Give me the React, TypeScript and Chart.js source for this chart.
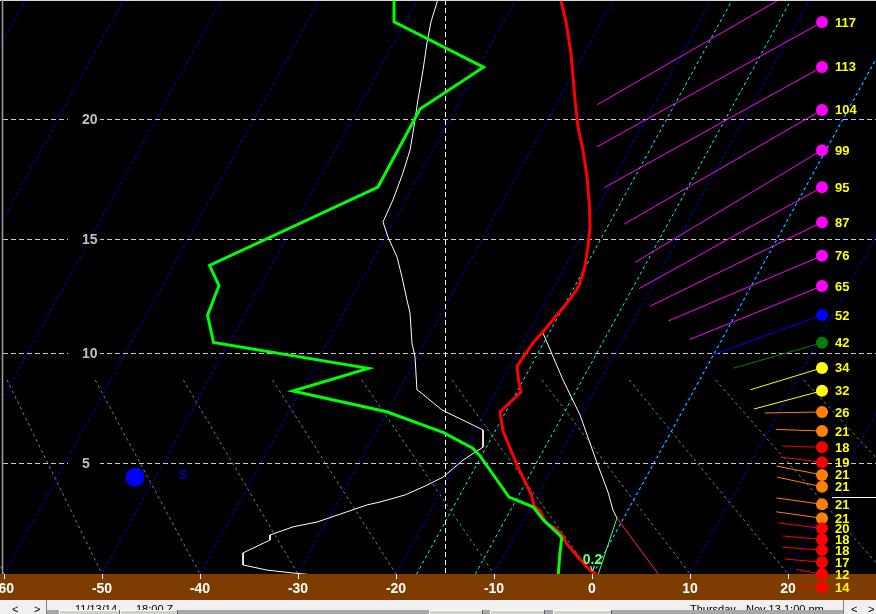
import React, { useEffect, useRef } from "react";
import { Chart, registerables } from "chart.js";

Chart.register(...registerables);

// ---------------- axes ----------------
const X_MIN = -60.41;
const X_MAX = 28.98;
const H_BOTTOM = -0.26; // kft at the ground line
const H_TOP = 24.82; // kft at the top of the plot
const xTickValues = [-60, -50, -40, -30, -20, -10, 0, 10, 20];
const yTickValues = [5, 10, 15, 20];
const markedTemp = -15;

// vertical stretch (log-p like) : display units per kft
function toD(h: number): number {
  return 20.6 * h + 0.093 * h * h;
}

// ---------------- background guide lines ----------------
const isotherms = [-90, -80, -70, -60, -50, -40, -30, -20, -10, 0, 10, 20];
const ISO_SHIFT = 32.2; // skew of isotherms between bottom and top of plot (°C)
const dgzIsotherms = [-18, -12, 0];
const adiabatBase = [-60, -50, -40, -30, -20, -10, 0, 10, 20, 30, 40];
const adiabatTop = [-68.8, -59.7, -50.7, -41.7, -32.6, -23.5, -14.3, -5.1, 3.8, 12.6, 21.6];
const ADIABAT_TOP_H = 8.81;

// ---------------- sounding profiles ----------------
const dewX = [-20.2, -20.2, -11.07, -17.55, -21.84, -39.03, -38.06, -39.23, -38.62, -22.83, -30.54, -20.95, -15.2, -12.17, -11.43, -8.47, -5.99, -4.97, -3.27, -3.09, -3.27, -3.44];
const dewH = [25.0, 23.95, 22.13, 20.43, 17.19, 13.85, 12.98, 11.69, 10.48, 9.33, 8.31, 7.37, 6.43, 5.7, 5.34, 3.42, 2.95, 2.34, 1.6, 1.47, 0.76, -0.26];

const tempX = [-3.3, -2.65, -2.14, -1.73, -1.43, -0.92, -0.51, -0.26, -0.2, -0.41, -0.71, -1.22, -1.58, -2.55, -4.59, -6.02, -7.65, -7.5, -7.24, -9.39, -9.08, -7.65, -6.17, -5.92, -5.31, -4.69, -3.78, -2.91, -2.65, -1.43, -0.2, 0.51];
const tempH = [25.0, 23.95, 22.67, 20.8, 19.69, 18.73, 17.61, 16.43, 15.5, 14.65, 13.83, 13.09, 12.78, 12.22, 11.17, 10.46, 9.43, 8.81, 8.27, 7.36, 6.49, 4.92, 3.52, 3.0, 2.77, 2.19, 1.95, 1.53, 1.24, 0.56, -0.07, -0.31];

const wetX = [-15.6, -16.43, -16.84, -17.24, -17.76, -18.27, -18.57, -19.29, -20.31, -21.33, -20.82, -19.9, -19.39, -18.88, -18.57, -18.37, -18.06, -17.86, -17.55, -15.31, -11.12, -11.12, -13.16, -15.2, -16.84, -19.08, -21.63, -22.96, -28.06, -30.51, -32.86, -32.86, -35.61, -35.61, -33.16, -30.51, -28.27];
const wetH = [25.0, 23.95, 23.11, 22.02, 20.8, 19.44, 18.73, 17.78, 16.65, 15.71, 15.07, 14.22, 13.35, 12.35, 11.78, 10.46, 9.83, 8.36, 8.27, 7.45, 6.54, 5.75, 5.15, 4.36, 3.98, 3.52, 3.19, 3.05, 2.24, 2.01, 1.62, 1.38, 0.76, 0.18, -0.07, -0.21, -0.31];

const parcelX = [-5.0, -2.96, -1.22, 0.41, 1.63, 2.14, 2.55];
const parcelH = [10.9, 8.81, 7.22, 5.15, 3.66, 2.81, 2.43];
const sfcTempX = [2.55, 6.84];
const sfcTempH = [2.43, -0.31];
const sfcDewX = [2.55, 0.61];
const sfcDewH = [2.43, -0.31];

const stormX = -46.63;
const stormH = 4.35;
const stormLabel = "S";
const precipLabel = "0.2";
const precipX = 0.05;
const precipH = 0.42;
const markerH = 3.43;
const markerX = 24.49;

// ---------------- winds (right column) ----------------
const WIND_COLUMN_X = 23.47;
const WIND_PX_PER_KT = 2.2;
const windHeights = [25.81, 23.94, 22.14, 20.39, 18.73, 17.18, 15.7, 14.27, 12.96, 11.69, 10.47, 9.35, 8.32, 7.36, 6.49, 5.74, 5.05, 4.46, 3.91, 3.08, 2.42, 1.94, 1.41, 0.9, 0.31, -0.26, -0.91];
const windSpeeds = [118, 117, 113, 104, 99, 95, 87, 76, 65, 52, 42, 34, 32, 26, 21, 18, 19, 21, 21, 21, 21, 20, 18, 18, 17, 12, 14];
const windDirs = [240, 241, 241, 240, 239, 241, 244, 247, 248, 250, 254, 253, 255, 269, 272, 272, 277, 281, 282, 278, 278, 277, 275, 274, 275, 280, 274];

// ---------------- status bar ----------------
const leftStamp = ["11/13/14", "18:00 Z"];
const rightStamp = ["Thursday", "Nov 13", "1:00 pm"];

function windColor(s: number): string {
  if (s <= 20) return "#ff0000";
  if (s <= 30) return "#ff8000";
  if (s <= 40) return "#ffff00";
  if (s <= 50) return "#008000";
  if (s <= 60) return "#0000ff";
  return "#ff00ff";
}

function pts(xs: number[], hs: number[]) {
  return xs.map((x, i) => ({ x, y: toD(hs[i]) }));
}

function seg(ctx: CanvasRenderingContext2D, x1: number, y1: number, x2: number, y2: number) {
  ctx.beginPath();
  ctx.moveTo(x1, y1);
  ctx.lineTo(x2, y2);
  ctx.stroke();
}

const skewPlugin = {
  id: "skewt",
  beforeDraw(chart: any) {
    const { ctx, width, height, chartArea: a } = chart;
    ctx.save();
    ctx.fillStyle = "#000000";
    ctx.fillRect(0, 0, width, a.bottom);
    ctx.fillStyle = "#7f3c00";
    ctx.fillRect(0, a.bottom, width, 26);
    ctx.fillStyle = "#f0f0f0";
    ctx.fillRect(0, a.bottom + 26, width, height - a.bottom - 26);
    ctx.restore();
  },
  beforeDatasetsDraw(chart: any) {
    const { ctx, chartArea: a, scales } = chart;
    const X = (v: number) => scales.x.getPixelForValue(v);
    const Y = (h: number) => scales.y.getPixelForValue(toD(h));
    ctx.save();
    ctx.beginPath();
    ctx.rect(a.left, a.top, a.right - a.left, a.bottom - a.top);
    ctx.clip();
    ctx.lineWidth = 1;

    // dry adiabats
    ctx.strokeStyle = "#4a8c8c";
    ctx.setLineDash([3, 3]);
    adiabatBase.forEach((t, i) => {
      seg(ctx, X(adiabatTop[i]), Y(ADIABAT_TOP_H), X(t), Y(H_BOTTOM));
    });

    // isotherms
    ctx.strokeStyle = "#0000ff";
    isotherms.forEach((t) => {
      seg(ctx, X(t), Y(H_BOTTOM), X(t + ISO_SHIFT), Y(H_TOP));
    });
    ctx.strokeStyle = "#00ffff";
    dgzIsotherms.forEach((t) => {
      seg(ctx, X(t) + 1, Y(H_BOTTOM), X(t + ISO_SHIFT) + 1, Y(H_TOP));
    });

    // horizontal height grid
    ctx.strokeStyle = "#c8c8c8";
    ctx.setLineDash([5, 3]);
    yTickValues.forEach((h) => {
      const y = Math.round(Y(h)) + 0.5;
      seg(ctx, a.left + 3, y, a.right, y);
    });
    // marked temperature line
    ctx.strokeStyle = "#ffffff";
    const xm = Math.round(X(markedTemp)) + 0.5;
    seg(ctx, xm, a.top, xm, a.bottom);
    ctx.setLineDash([]);

    // height labels
    ctx.font = "bold 14px Arial";
    ctx.textBaseline = "middle";
    ctx.textAlign = "left";
    yTickValues.forEach((h) => {
      const y = Y(h);
      ctx.fillStyle = "#000000";
      ctx.fillRect(68, y - 7, 32, 14);
      ctx.fillStyle = "#c0c0c0";
      ctx.fillText(String(h), 82, y + 1);
    });
    ctx.restore();
  },
  afterDatasetsDraw(chart: any) {
    const { ctx, chartArea: a, scales, width, height } = chart;
    const X = (v: number) => scales.x.getPixelForValue(v);
    const Y = (h: number) => scales.y.getPixelForValue(toD(h));
    ctx.save();

    // storm marker
    ctx.fillStyle = "#0000ff";
    ctx.beginPath();
    ctx.arc(X(stormX), Y(stormH), 9.5, 0, Math.PI * 2);
    ctx.fill();
    ctx.font = "13px Arial";
    ctx.textAlign = "center";
    ctx.textBaseline = "middle";
    ctx.fillText(stormLabel, X(stormX) + 48, Y(stormH) - 2);

    // precip label
    ctx.fillStyle = "#70ff70";
    ctx.font = "bold 14px Arial";
    ctx.fillText(precipLabel, X(precipX), Y(precipH));
    ctx.font = "bold 9px Arial";
    ctx.fillText("v", X(precipX), Y(precipH) + 9);

    // marker line
    ctx.strokeStyle = "#ffffff";
    ctx.lineWidth = 1;
    const ym = Math.round(Y(markerH)) + 0.5;
    seg(ctx, X(markerX), ym, a.right, ym);

    // winds
    const wx = X(WIND_COLUMN_X);
    windHeights.forEach((h, i) => {
      const y = Y(h);
      const s = windSpeeds[i];
      const c = windColor(s);
      const r = (windDirs[i] * Math.PI) / 180;
      const L = s * WIND_PX_PER_KT;
      ctx.strokeStyle = c;
      ctx.lineWidth = 1;
      seg(ctx, wx, y, wx + L * Math.sin(r), y - L * Math.cos(r));
    });
    ctx.font = "bold 13px Arial";
    ctx.textAlign = "left";
    ctx.textBaseline = "middle";
    windHeights.forEach((h, i) => {
      const y = Y(h);
      const s = windSpeeds[i];
      ctx.fillStyle = windColor(s);
      ctx.beginPath();
      ctx.arc(wx, y, 6, 0, Math.PI * 2);
      ctx.fill();
      ctx.fillStyle = "#ffff00";
      ctx.fillText(String(s), wx + 13, y + 1);
    });

    // frame lines
    ctx.strokeStyle = "#d8d8d8";
    seg(ctx, 0, 0.5, width, 0.5);
    ctx.strokeStyle = "#a0a0a0";
    ctx.lineWidth = 1.5;
    seg(ctx, 2.5, 0, 2.5, a.bottom);

    // x ticks and labels in ground band
    ctx.strokeStyle = "#ffffff";
    ctx.lineWidth = 1;
    ctx.fillStyle = "#ffffff";
    ctx.font = "bold 14px Arial";
    ctx.textAlign = "center";
    ctx.textBaseline = "middle";
    xTickValues.forEach((t) => {
      const x = Math.round(X(t)) + 0.5;
      seg(ctx, x, a.bottom, x, a.bottom + 5);
      ctx.fillText(String(t), X(t), a.bottom + 15);
    });

    // status bar
    const top = a.bottom + 26;
    ctx.strokeStyle = "#808080";
    seg(ctx, 46.5, top, 46.5, height);
    seg(ctx, 843.5, top, 843.5, height);
    ctx.fillStyle = "#000000";
    ctx.font = "11px Arial";
    ctx.textAlign = "left";
    ctx.textBaseline = "alphabetic";
    ctx.fillText("<", 12, top + 13);
    ctx.fillText(">", 34, top + 13);
    ctx.fillText("<", 851, top + 13);
    ctx.fillText(">", 868, top + 13);
    ctx.fillText(leftStamp[0], 75, top + 13);
    ctx.fillText(leftStamp[1], 136, top + 13);
    ctx.fillText(rightStamp[0], 690, top + 13);
    ctx.fillText(rightStamp[1], 746, top + 13);
    ctx.fillText(rightStamp[2], 784, top + 13);
    // lower button row
    const by = top + 10;
    ctx.fillStyle = "#a8a8a8";
    ctx.fillRect(47, by, width - 47 - 33, height - by);
    const buttons = [
      [59, 120],
      [120, 178],
      [429, 483],
      [490, 545],
      [553, 612],
    ];
    buttons.forEach(([x1, x2]) => {
      ctx.fillStyle = "#d4d0c8";
      ctx.fillRect(x1, by, x2 - x1, height - by);
      ctx.strokeStyle = "#ffffff";
      seg(ctx, x1, by + 0.5, x2, by + 0.5);
      seg(ctx, x1 + 0.5, by, x1 + 0.5, height);
      ctx.strokeStyle = "#606060";
      seg(ctx, x2 - 0.5, by, x2 - 0.5, height);
    });
    ctx.restore();
  },
};

export default function App() {
  const ref = useRef<HTMLCanvasElement>(null);
  useEffect(() => {
    const canvas = ref.current;
    if (!canvas) return;
    const chart = new Chart(canvas, {
      type: "line",
      data: {
        datasets: [
          { data: pts(dewX, dewH), borderColor: "#00ff00", borderWidth: 3, order: 0 },
          { data: pts(tempX, tempH), borderColor: "#ff0000", borderWidth: 3, order: 1 },
          { data: pts(wetX, wetH), borderColor: "#ffffff", borderWidth: 1, order: 2 },
          { data: pts(parcelX, parcelH), borderColor: "#ffffff", borderWidth: 1, order: 3 },
          { data: pts(sfcTempX, sfcTempH), borderColor: "#ff3030", borderWidth: 1, order: 3 },
          { data: pts(sfcDewX, sfcDewH), borderColor: "#50ff50", borderWidth: 1, order: 3 },
        ],
      } as any,
      options: {
        animation: false,
        responsive: false,
        maintainAspectRatio: false,
        layout: { padding: { left: 0, right: 0, top: 0, bottom: 40 } },
        scales: {
          x: { type: "linear", min: X_MIN, max: X_MAX, display: false },
          y: { type: "linear", min: toD(H_BOTTOM), max: toD(H_TOP), display: false },
        },
        plugins: { legend: { display: false }, tooltip: { enabled: false } },
        elements: { point: { radius: 0 }, line: { tension: 0 } },
      } as any,
      plugins: [skewPlugin],
    });
    return () => chart.destroy();
  }, []);
  return (
    <div style={{ position: "fixed", left: 0, top: 0, width: 876, height: 614, background: "#000" }}>
      <canvas ref={ref} width={876} height={614} style={{ display: "block", width: 876, height: 614 }} />
    </div>
  );
}
